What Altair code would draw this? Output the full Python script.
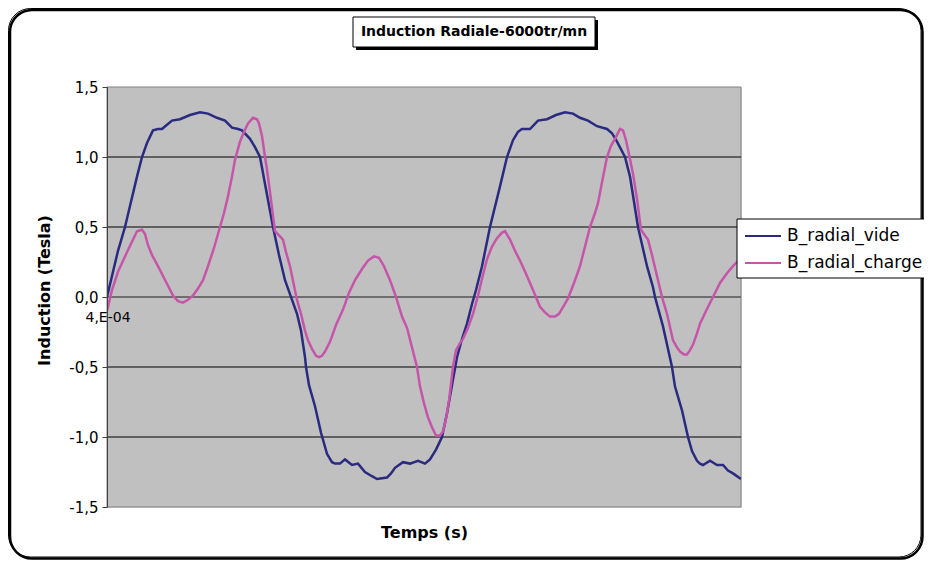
import altair as alt
import pandas as pd

# Temps (x 1e-5 s, sample offsets) and induction values (Tesla)
temps_vide = [0, 5, 11, 18, 24, 30, 35, 40, 46, 51, 55, 60, 65, 73, 83, 93, 101, 110, 118, 125,
              131, 135, 143, 148, 153, 159, 166, 172, 178, 183, 190, 194, 198, 199, 202, 208, 214,
              220, 225, 228, 233, 238, 245, 251, 258, 265, 270, 280, 284, 288, 296, 303, 311, 318,
              323, 329, 335, 340, 346, 350, 355, 360, 365, 369, 375, 383, 393, 400, 406, 411, 415,
              423, 431, 440, 449, 458, 466, 473, 481, 490, 500, 505, 510, 518, 523, 531, 540, 546,
              548, 556, 565, 568, 575, 581, 585, 590, 593, 596, 603, 610, 616, 621, 626, 634]
b_vide = [0.0, 0.15, 0.33, 0.5, 0.68, 0.86, 1.0, 1.1, 1.19, 1.2, 1.2, 1.23, 1.26, 1.27, 1.3, 1.32,
          1.31, 1.28, 1.26, 1.21, 1.2, 1.19, 1.13, 1.07, 1.0, 0.77, 0.5, 0.3, 0.12, 0.02, -0.12,
          -0.24, -0.43, -0.5, -0.63, -0.78, -0.97, -1.12, -1.18, -1.19, -1.19, -1.16, -1.2, -1.19,
          -1.25, -1.28, -1.3, -1.29, -1.26, -1.22, -1.18, -1.19, -1.17, -1.19, -1.16, -1.09, -1.0,
          -0.83, -0.59, -0.43, -0.3, -0.19, -0.05, 0.05, 0.22, 0.5, 0.79, 1.0, 1.12, 1.18, 1.2,
          1.2, 1.26, 1.27, 1.3, 1.32, 1.31, 1.28, 1.26, 1.22, 1.2, 1.17, 1.11, 1.0, 0.86, 0.5,
          0.22, 0.07, 0.0, -0.21, -0.5, -0.64, -0.81, -1.0, -1.1, -1.17, -1.19, -1.2, -1.17, -1.2,
          -1.2, -1.24, -1.26, -1.3]

temps_charge = [0, 5, 11, 18, 24, 30, 35, 38, 41, 45, 51, 56, 61, 66, 71, 76, 81, 86, 91, 96, 101,
                107, 113, 117, 121, 125, 128, 133, 137, 141, 146, 150, 152, 155, 158, 160, 163,
                166, 168, 172, 176, 179, 183, 187, 190, 194, 198, 201, 205, 209, 212, 215, 218,
                223, 229, 236, 242, 248, 255, 261, 267, 272, 277, 283, 289, 295, 300, 305, 310,
                313, 317, 321, 325, 329, 333, 336, 339, 342, 346, 349, 353, 356, 361, 366, 371,
                375, 380, 385, 390, 395, 398, 403, 408, 413, 420, 426, 433, 438, 443, 448, 452,
                457, 461, 467, 473, 478, 483, 488, 491, 495, 500, 504, 508, 513, 516, 519, 522,
                526, 530, 534, 538, 541, 545, 550, 555, 560, 566, 570, 573, 577, 580, 583, 586,
                590, 593, 599, 606, 613, 620, 626, 630, 634]
b_charge = [-0.1, 0.05, 0.18, 0.29, 0.38, 0.47, 0.48, 0.45, 0.37, 0.3, 0.22, 0.15, 0.08, 0.01,
            -0.03, -0.04, -0.02, 0.01, 0.06, 0.12, 0.22, 0.35, 0.5, 0.6, 0.72, 0.86, 0.98, 1.11,
            1.18, 1.24, 1.28, 1.27, 1.24, 1.15, 1.0, 0.91, 0.75, 0.58, 0.47, 0.44, 0.41, 0.32,
            0.22, 0.08, -0.02, -0.12, -0.24, -0.31, -0.37, -0.42, -0.43, -0.42, -0.39, -0.32,
            -0.2, -0.09, 0.03, 0.12, 0.2, 0.26, 0.29, 0.28, 0.22, 0.12, 0.0, -0.14, -0.22, -0.36,
            -0.5, -0.64, -0.76, -0.86, -0.93, -0.99, -0.99, -0.96, -0.87, -0.74, -0.5, -0.38,
            -0.33, -0.3, -0.22, -0.12, 0.01, 0.13, 0.27, 0.36, 0.42, 0.46, 0.47, 0.41, 0.33, 0.26,
            0.15, 0.05, -0.07, -0.11, -0.14, -0.14, -0.12, -0.06, -0.01, 0.1, 0.22, 0.36, 0.5,
            0.6, 0.67, 0.82, 1.0, 1.08, 1.13, 1.2, 1.19, 1.12, 1.02, 0.88, 0.7, 0.48, 0.44, 0.41,
            0.3, 0.15, 0.0, -0.12, -0.31, -0.36, -0.39, -0.41, -0.41, -0.38, -0.34, -0.26, -0.19,
            -0.1, 0.0, 0.1, 0.17, 0.22, 0.25, 0.27]

series_names = ["B_radial_vide", "B_radial_charge"]
series_colors = ["#2a2a80", "#c655aa"]
y_ticks = [-1.5, -1.0, -0.5, 0.0, 0.5, 1.0, 1.5]
title_text = "Induction Radiale-6000tr/mn"
first_x_label = "4,E-04"

rows = []
for t, v in zip(temps_vide, b_vide):
    rows.append({"t": t, "B": v, "serie": series_names[0], "o": 0})
for t, v in zip(temps_charge, b_charge):
    rows.append({"t": t, "B": v, "serie": series_names[1], "o": 1})
df = pd.DataFrame(rows)

W, H = 634, 420
FONT = "DejaVu Sans"

xscale = alt.Scale(domain=[0, 634], nice=False, zero=False)
yscale = alt.Scale(domain=[-1.5, 1.5], nice=False)
one = pd.DataFrame({"a": [0]})

# outer frame (rounded) with a dark shadow on the right/bottom
frame_shadow = alt.Chart(one).mark_rect(
    fill=None, stroke="black", strokeWidth=2.5, cornerRadius=22, clip=False
).encode(x=alt.value(-97), x2=alt.value(815.5), y=alt.value(-77), y2=alt.value(471.5))
frame = alt.Chart(one).mark_rect(
    fill=None, stroke="black", strokeWidth=1, cornerRadius=22, clip=False
).encode(x=alt.value(-98.5), x2=alt.value(814), y=alt.value(-78.5), y2=alt.value(470))

# plot background
bg = alt.Chart(one).mark_rect(fill="#c0c0c0", stroke="#808080", strokeWidth=1).encode(
    x=alt.value(0), x2=alt.value(W), y=alt.value(0), y2=alt.value(H))

grid_df = pd.DataFrame({"y": [-1.0, -0.5, 0.5, 1.0]})
grid = alt.Chart(grid_df).mark_rule(color="black", strokeWidth=1).encode(
    y=alt.Y("y:Q", scale=yscale, axis=None), x=alt.value(0), x2=alt.value(W))
zero = alt.Chart(pd.DataFrame({"y": [0.0]})).mark_rule(color="#6e6e6e", strokeWidth=2).encode(
    y=alt.Y("y:Q", scale=yscale, axis=None), x=alt.value(0), x2=alt.value(W))

lines = alt.Chart(df).mark_line(strokeWidth=2.5, clip=True).encode(
    x=alt.X("t:Q", scale=xscale,
            axis=alt.Axis(title="Temps (s)", labels=False, ticks=False, grid=False,
                          domain=False, titleFont=FONT, titleFontSize=16, titleFontWeight="bold",
                          titlePadding=17, titleColor="black", zindex=1)),
    y=alt.Y("B:Q", scale=yscale,
            axis=alt.Axis(title="Induction (Tesla)", values=y_ticks, grid=False,
                          labelExpr="(datum.value < 0 ? '-' : '') + replace(format(abs(datum.value), '.1f'), '.', ',')",
                          labelFont=FONT, labelFontSize=15, labelColor="black",
                          tickSize=5, tickColor="#404040", domainColor="#404040",
                          labelPadding=4, zindex=1,
                          titleFont=FONT, titleFontSize=16, titleFontWeight="bold",
                          titleX=-63, titleY=203, titleAlign="center",
                          titleBaseline="middle", titleColor="black")),
    color=alt.Color("serie:N", scale=alt.Scale(domain=series_names, range=series_colors),
                    legend=None),
    order="o:Q",
    detail="serie:N",
)

xlabel = alt.Chart(pd.DataFrame({"s": [first_x_label]})).mark_text(
    font=FONT, fontSize=14, color="black", align="center", baseline="middle", clip=False
).encode(x=alt.value(1), y=alt.value(231), text="s:N")

# legend (box, line keys and labels)
leg_box = alt.Chart(one).mark_rect(fill="white", stroke="black", strokeWidth=1, clip=False).encode(
    x=alt.value(630), x2=alt.value(840), y=alt.value(132), y2=alt.value(191))
leg_df = pd.DataFrame({"serie": series_names, "row": [0, 1]})
leg_scale = alt.Scale(domain=[0, 1], range=[149, 176])
leg_lines = alt.Chart(leg_df).mark_rule(strokeWidth=2, clip=False).encode(
    y=alt.Y("row:Q", scale=leg_scale, axis=None), x=alt.value(638), x2=alt.value(674),
    color=alt.Color("serie:N", scale=alt.Scale(domain=series_names, range=series_colors),
                    legend=None))
leg_text = alt.Chart(leg_df).mark_text(
    font=FONT, fontSize=17, color="black", align="left", baseline="middle", clip=False
).encode(y=alt.Y("row:Q", scale=leg_scale, axis=None), x=alt.value(680), text="serie:N")

title_shadow = alt.Chart(one).mark_rect(fill="black", clip=False).encode(
    x=alt.value(249), x2=alt.value(491), y=alt.value(-67), y2=alt.value(-37))
title_box = alt.Chart(one).mark_rect(
    fill="white", stroke="black", strokeWidth=1, clip=False).encode(
    x=alt.value(246), x2=alt.value(488), y=alt.value(-70), y2=alt.value(-40))
title = alt.Chart(pd.DataFrame({"s": [title_text]})).mark_text(
    font=FONT, fontSize=14, fontWeight="bold", color="black", align="center",
    baseline="middle", clip=False).encode(x=alt.value(367), y=alt.value(-55), text="s:N")

chart = alt.layer(
    frame_shadow, frame, bg, grid, zero, lines, xlabel,
    leg_box, leg_lines, leg_text, title_shadow, title_box, title
).resolve_scale(y="independent").properties(
    width=W, height=H,
    autosize=alt.AutoSizeParams(type="none"),
    padding={"left": 99, "top": 79, "right": 183, "bottom": 53},
).configure_view(stroke=None).configure(background="white")

chart.save("out.html", embed_options={"renderer": "svg", "actions": False})
